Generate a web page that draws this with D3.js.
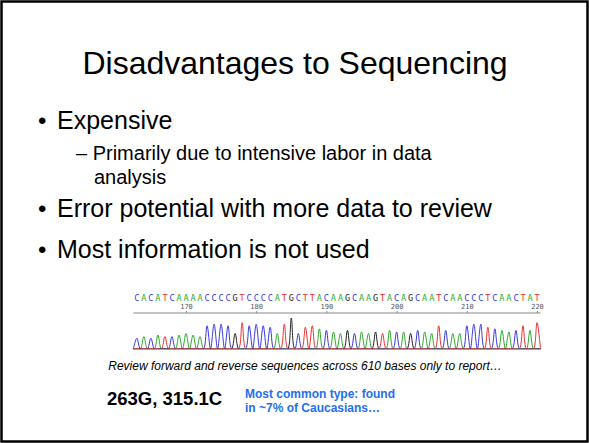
<!DOCTYPE html>
<html>
<head>
<meta charset="utf-8">
<script src="https://cdn.jsdelivr.net/npm/d3@7"></script>
<style>
  body { margin: 0; background: #fff; }
  svg { display: block; font-family: "Liberation Sans", Arial, sans-serif; }
</style>
</head>
<body>
<div id="slide"></div>
<script>
// Slide text
const title = 'Disadvantages to Sequencing';
const bullets = [
    { level: 0, text: 'Expensive' },
    { level: 1, text: 'Primarily due to intensive labor in data', cont: 'analysis' },
    { level: 0, text: 'Error potential with more data to review' },
    { level: 0, text: 'Most information is not used' }
];
const caption = 'Review forward and reverse sequences across 610 bases only to report\u2026';
const result = '263G, 315.1C';
const note = ['Most common type: found', 'in ~7% of Caucasians\u2026'];

// Chromatogram data (base calls from position 163 to 220, peak heights)
const firstBase = 163;
const bases = 'CACATCAAAACCCCGTCCCCATGCTTACAAGCAAGTACAGCAATCAACCCTCAACTAT'.split('');
const peaks = [0.35, 0.4, 0.35, 0.45, 0.4, 0.4, 0.45, 0.5, 0.45, 0.4,
    0.75, 0.8, 0.8, 0.75, 0.5, 0.85, 0.75, 0.8, 0.75, 0.7,
    0.5, 0.8, 1.0, 0.5, 0.7, 0.75, 0.65, 0.6, 0.55, 0.5,
    0.6, 0.5, 0.55, 0.5, 0.55, 0.5, 0.6, 0.55, 0.55, 0.5,
    0.6, 0.55, 0.5, 0.75, 0.6, 0.5, 0.5, 0.75, 0.8, 0.8,
    0.7, 0.65, 0.6, 0.55, 0.6, 0.75, 0.6, 0.85];
const ticks = [170, 180, 190, 200, 210, 220];
const baseColors = { A: '#2ea82e', C: '#3838e0', G: '#222222', T: '#e83030' };

const W = 589, H = 443;

const svg = d3.select('#slide')
    .append('svg')
    .attr('width', W)
    .attr('height', H);

// Slide border
svg.append('rect')
    .attr('x', 1.5)
    .attr('y', 1.5)
    .attr('width', W - 3)
    .attr('height', H - 3)
    .attr('fill', '#fff')
    .attr('stroke', '#000')
    .attr('stroke-width', 2.5);

// Title
svg.append('text')
    .attr('x', 295)
    .attr('y', 74)
    .attr('text-anchor', 'middle')
    .style('font-size', '32px')
    .text(title);

// Bullets
const lineY = [129, 160, 217, 258];
bullets.forEach((b, i) => {
    if (b.level === 0) {
        svg.append('text')
            .attr('x', 38)
            .attr('y', lineY[i])
            .style('font-size', '24px')
            .text('\u2022');
        svg.append('text')
            .attr('x', 57)
            .attr('y', lineY[i])
            .style('font-size', '25px')
            .text(b.text);
    } else {
        svg.append('text')
            .attr('x', 76)
            .attr('y', lineY[i])
            .style('font-size', '20px')
            .text('\u2013 ' + b.text);
        svg.append('text')
            .attr('x', 94)
            .attr('y', lineY[i] + 24)
            .style('font-size', '20px')
            .text(b.cont);
    }
});

// Chromatogram scales
const lastBase = firstBase + bases.length - 1;
const x = d3.scaleLinear().domain([170, 220]).range([186, 537]);
const y = d3.scaleLinear().domain([0, 1]).range([349, 318]);

const chrom = svg.append('g');

// Base call letters
chrom.selectAll('.base')
    .data(bases)
    .enter()
    .append('text')
    .attr('class', 'base')
    .attr('x', (d, i) => x(firstBase + i))
    .attr('y', 301)
    .attr('text-anchor', 'middle')
    .style('font-family', '"DejaVu Sans Mono", monospace')
    .style('font-size', '8.5px')
    .style('fill', d => baseColors[d])
    .text(d => d);

// Position axis
const axis = d3.axisTop(x)
    .tickValues(ticks)
    .tickSize(2)
    .tickFormat(d3.format('d'));

chrom.append('g')
    .attr('transform', 'translate(0,313)')
    .call(axis)
    .call(g => g.select('.domain')
        .attr('d', `M${x(firstBase - 0.5)},0H${x(lastBase + 0.5)}`)
        .attr('stroke', '#888'))
    .call(g => g.selectAll('.tick line').attr('stroke', '#888'))
    .call(g => g.selectAll('.tick text')
        .attr('font-family', '"DejaVu Sans Mono", monospace')
        .attr('font-size', 7)
        .attr('fill', '#555')
        .attr('dy', '0.1em'));

// Traces: one line per channel, peaks at that channel's calls
const line = d3.line()
    .x(d => x(d.pos))
    .y(d => y(d.h))
    .curve(d3.curveCatmullRom.alpha(0.5));

Object.keys(baseColors).forEach(ch => {
    const pts = [];
    bases.forEach((b, i) => {
        const pos = firstBase + i;
        pts.push({ pos: pos - 0.5, h: 0 });
        pts.push({ pos: pos, h: b === ch ? peaks[i] : 0 });
    });
    pts.push({ pos: lastBase + 0.5, h: 0 });
    chrom.append('path')
        .datum(pts)
        .attr('fill', 'none')
        .attr('stroke', baseColors[ch])
        .attr('stroke-width', 1)
        .attr('d', line);
});

// Trace baseline
chrom.append('line')
    .attr('x1', x(firstBase - 0.5))
    .attr('x2', x(lastBase + 0.5))
    .attr('y1', y(0) + 0.5)
    .attr('y2', y(0) + 0.5)
    .attr('stroke', '#f08080')
    .attr('stroke-width', 1);

// Caption
svg.append('text')
    .attr('x', 305)
    .attr('y', 370)
    .attr('text-anchor', 'middle')
    .style('font-size', '12px')
    .style('font-style', 'italic')
    .text(caption);

// Result
svg.append('text')
    .attr('x', 107)
    .attr('y', 405)
    .style('font-size', '18.5px')
    .style('font-weight', 'bold')
    .text(result);

note.forEach((t, i) => {
    svg.append('text')
        .attr('x', 245)
        .attr('y', 398 + i * 14)
        .style('font-size', '12px')
        .style('font-weight', 'bold')
        .style('fill', '#1f6ff0')
        .text(t);
});
</script>
</body>
</html>
